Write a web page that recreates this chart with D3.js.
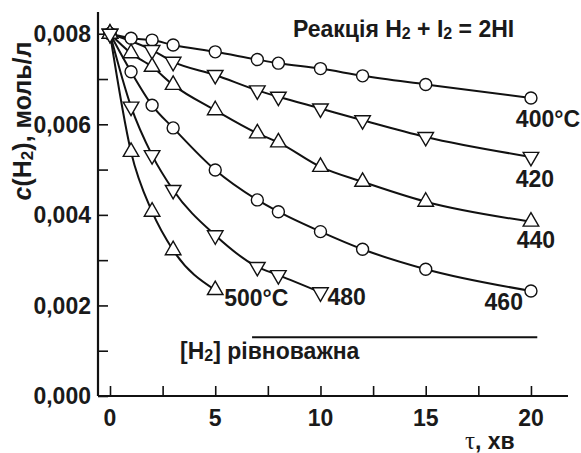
<!DOCTYPE html>
<html><head><meta charset="utf-8">
<script src="https://cdn.jsdelivr.net/npm/d3@7"></script>
<style>
html,body{margin:0;padding:0;background:#fff;}
svg{display:block;font-family:"Liberation Sans",Arial,sans-serif;}
</style></head>
<body>
<svg id="chart" width="581" height="453"></svg>
<script>
// ---- data (time in min, concentration in mol/L) ----
const times = [0, 1, 2, 3, 5, 7, 8, 10, 12, 15, 20];
const c400 = [0.00800, 0.00790, 0.00786, 0.00775, 0.00760, 0.00743, 0.00735, 0.00723, 0.00707, 0.00688, 0.00658];
const times420 = [0, 2, 3, 5, 7, 8, 10, 12, 15, 20];
const c420 = [0.00800, 0.00764, 0.00738, 0.00709, 0.00675, 0.00661, 0.00635, 0.00609, 0.00572, 0.00528];
const c440 = [0.00800, 0.00757, 0.00727, 0.00687, 0.00631, 0.00580, 0.00560, 0.00506, 0.00473, 0.00429, 0.00385];
const c460 = [0.00800, 0.00716, 0.00642, 0.00592, 0.00499, 0.00433, 0.00407, 0.00363, 0.00324, 0.00280, 0.00232];
const times480 = [0, 1, 2, 3, 5, 7, 8, 10];
const c480 = [0.00800, 0.00639, 0.00532, 0.00455, 0.00355, 0.00285, 0.00267, 0.00229];
const times500 = [0, 1, 2, 3, 5];
const c500 = [0.00800, 0.00539, 0.00407, 0.00322, 0.00234];

const seriesNames = ["400°C", "420", "440", "460", "480", "500°C"];
const seriesMarkers = ["circle", "down", "up", "circle", "down", "up"];

const xTicks = [0, 2.5, 5, 7.5, 10, 12.5, 15, 17.5, 20];
const xTickLabels = ["0", "5", "10", "15", "20"];
const yTicks = [0, 0.001, 0.002, 0.003, 0.004, 0.005, 0.006, 0.007, 0.008];
const yTickLabels = ["0,000", "0,002", "0,004", "0,006", "0,008"];

const equilibriumLevel = 0.0013;
const equilibriumSpan = [6.75, 20.3];

// ---- layout ----
const svg = d3.select("#chart");
const x = d3.scaleLinear().domain([-0.57, 21.76]).range([98, 568]);
const y = d3.scaleLinear().domain([0, 0.00848]).range([396, 12]);

const series = [
  {t: times, c: c400},
  {t: times420, c: c420},
  {t: times, c: c440},
  {t: times, c: c460},
  {t: times480, c: c480},
  {t: times500, c: c500}
].map((s, i) => ({
  name: seriesNames[i], marker: seriesMarkers[i],
  pts: s.t.map((t, j) => ({t, c: s.c[j]}))
}));

// axes
const yAxis = d3.axisRight(y).tickValues(yTicks).tickSize(10).tickFormat("");
const gy = svg.append("g").attr("transform", `translate(${x.range()[0]},0)`).call(yAxis);
gy.select(".domain").attr("d", `M0,${y.range()[0]}V${y.range()[1]}`);
const xAxis = d3.axisTop(x).tickValues(xTicks).tickSize(10).tickFormat("");
const gx = svg.append("g").attr("transform", `translate(0,${y.range()[0]})`).call(xAxis);
gx.select(".domain").attr("d", `M${x.range()[0]},0H${x.range()[1]}`);
svg.selectAll(".domain").attr("stroke", "#111").attr("stroke-width", 2.2);
svg.selectAll(".tick line").attr("stroke", "#111").attr("stroke-width", 1.6);

// tick labels
const fs = 23;
const sub = 16;
svg.append("g").selectAll("text").data(yTickLabels).join("text")
  .attr("x", 91).attr("y", (d, i) => y(i * 0.002)).attr("dy", "0.36em")
  .attr("text-anchor", "end").attr("font-size", fs).attr("font-weight", "bold").attr("fill", "#1a1a1a")
  .text(d => d);
svg.append("g").selectAll("text").data(xTickLabels).join("text")
  .attr("x", d => x(+d)).attr("y", 426)
  .attr("text-anchor", "middle").attr("font-size", fs).attr("font-weight", "bold").attr("fill", "#1a1a1a")
  .text(d => d);

// axis titles
const yl = svg.append("text").attr("transform", "translate(31,121) rotate(-90)")
  .attr("text-anchor", "middle").attr("font-size", 25).attr("font-weight", "bold").attr("fill", "#1a1a1a");
yl.append("tspan").attr("font-style", "italic").text("c");
yl.append("tspan").text("(H");
yl.append("tspan").attr("font-size", 17).attr("dy", 2).text("2");
yl.append("tspan").attr("dy", -2).text("), моль/л");

const xl = svg.append("text").attr("x", 465).attr("y", 449).attr("font-size", fs).attr("font-weight", "bold").attr("fill", "#1a1a1a");
xl.append("tspan").attr("font-family", "'Liberation Serif','Times New Roman',serif").attr("font-weight", "normal").attr("font-size", 25).text("τ");
xl.append("tspan").text(", хв");

// title
const tt = svg.append("text").attr("x", 293).attr("y", 37).attr("font-size", fs).attr("font-weight", "bold").attr("fill", "#1a1a1a");
tt.append("tspan").text("Реакція H");
tt.append("tspan").attr("font-size", sub).attr("dy", 2).text("2");
tt.append("tspan").attr("dy", -2).text(" + I");
tt.append("tspan").attr("font-size", sub).attr("dy", 2).text("2");
tt.append("tspan").attr("dy", -2).text(" = 2HI");

// equilibrium line + label
svg.append("line")
  .attr("x1", x(equilibriumSpan[0])).attr("x2", x(equilibriumSpan[1]))
  .attr("y1", y(equilibriumLevel)).attr("y2", y(equilibriumLevel))
  .attr("stroke", "#111").attr("stroke-width", 2);
const el = svg.append("text").attr("x", 180).attr("y", 359).attr("font-size", fs).attr("font-weight", "bold").attr("fill", "#1a1a1a");
el.append("tspan").text("[H");
el.append("tspan").attr("font-size", sub).attr("dy", 2).text("2");
el.append("tspan").attr("dy", -2).text("] рівноважна");

// lines
const line = d3.line().x(d => x(d.t)).y(d => y(d.c)).curve(d3.curveMonotoneX);
svg.append("g").selectAll("path").data(series).join("path")
  .attr("d", d => line(d.pts)).attr("fill", "none").attr("stroke", "#111").attr("stroke-width", 2);

// markers
const triUp = d3.symbol().type(d3.symbolTriangle).size(105)();
const drawOrder = [0, 1, 2, 3, 5, 4];
drawOrder.forEach(i => {
  const s = series[i];
  const g = svg.append("g");
  s.pts.forEach(p => {
    if (s.marker === "circle") {
      g.append("circle").attr("cx", x(p.t)).attr("cy", y(p.c)).attr("r", 6)
        .attr("fill", "#fff").attr("stroke", "#111").attr("stroke-width", 1.4);
    } else {
      g.append("path").attr("d", triUp)
        .attr("transform", `translate(${x(p.t)},${y(p.c)})` + (s.marker === "down" ? " rotate(180)" : ""))
        .attr("fill", "#fff").attr("stroke", "#111").attr("stroke-width", 1.4);
    }
  });
});

// series labels, placed relative to each series' last point
const labelOffsets = [
  {dx: 17, dy: 29, anchor: "middle"},
  {dx: 4, dy: 30, anchor: "middle"},
  {dx: 5, dy: 26, anchor: "middle"},
  {dx: -8, dy: 19, anchor: "end"},
  {dx: 7, dy: 13, anchor: "start"},
  {dx: 9, dy: 16, anchor: "start"}
];
series.forEach((s, i) => {
  const last = s.pts[s.pts.length - 1];
  const o = labelOffsets[i];
  svg.append("text").attr("x", x(last.t) + o.dx).attr("y", y(last.c) + o.dy)
    .attr("text-anchor", o.anchor).attr("font-size", fs).attr("font-weight", "bold").attr("fill", "#1a1a1a")
    .text(s.name);
});
</script>
</body></html>
